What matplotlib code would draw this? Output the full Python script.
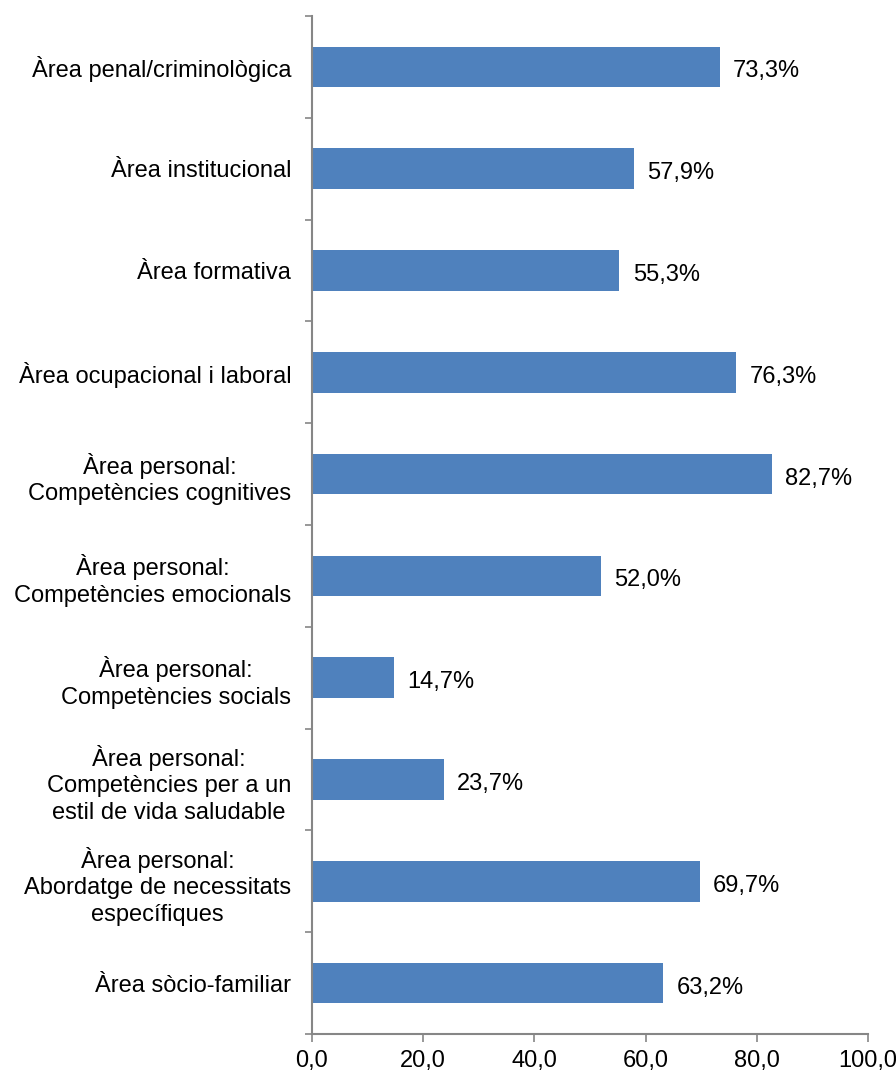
import matplotlib
matplotlib.use("Agg")
import matplotlib.pyplot as plt
import numpy as np
from matplotlib.ticker import FuncFormatter, FixedLocator

categories = [
    "Àrea penal/criminològica",
    "Àrea institucional",
    "Àrea formativa",
    "Àrea ocupacional i laboral",
    "Àrea personal:\nCompetències cognitives",
    "Àrea personal:\nCompetències emocionals",
    "Àrea personal:\nCompetències socials",
    "Àrea personal:\nCompetències per a un\nestil de vida saludable",
    "Àrea personal:\nAbordatge de necessitats\nespecífiques",
    "Àrea sòcio-familiar",
]
values = [73.3, 57.9, 55.3, 76.3, 82.7, 52.0, 14.7, 23.7, 69.7, 63.2]
x_ticks = [0, 20, 40, 60, 80, 100]

plt.rcParams["font.family"] = ["Liberation Sans", "DejaVu Sans"]
FS = 17
AXIS_GRAY = "#868686"
BAR_BLUE = "#4F81BD"

fig = plt.figure(figsize=(8.96, 10.72), dpi=100)
ax = fig.add_axes([312 / 896, 1 - 1034 / 1072, (868 - 312) / 896, (1034 - 16) / 1072])

y = np.arange(len(categories))
ax.barh(y, values, height=0.4, color=BAR_BLUE, zorder=2)

for yi, v in zip(y, values):
    ax.annotate(f"{v:.1f}%".replace(".", ","), xy=(v, yi), xytext=(9.5, -7.5),
                textcoords="offset points", va="baseline", ha="left",
                fontsize=FS, color="black")

ax.set_xlim(0, 100)
ax.set_ylim(len(categories) - 0.5, -0.5)

ax.set_xticks(x_ticks)
ax.xaxis.set_major_formatter(FuncFormatter(lambda v, p: f"{v:.1f}".replace(".", ",")))
ax.tick_params(axis="x", direction="out", length=5.8, width=1.2, color=AXIS_GRAY,
               labelsize=FS, pad=6)

ax.set_yticks(y)
ax.set_yticklabels(categories, fontsize=FS, multialignment="center", linespacing=1.27)
ax.tick_params(axis="y", which="major", length=0, pad=15)
ax.yaxis.set_minor_locator(FixedLocator(np.arange(-0.5, len(categories), 1.0)))
ax.tick_params(axis="y", which="minor", direction="out", length=5, width=1.2, color=AXIS_GRAY)

for side in ("top", "right"):
    ax.spines[side].set_visible(False)
for side in ("left", "bottom"):
    ax.spines[side].set_color(AXIS_GRAY)
    ax.spines[side].set_linewidth(1.5)

fig.savefig("out.png", dpi=100)
